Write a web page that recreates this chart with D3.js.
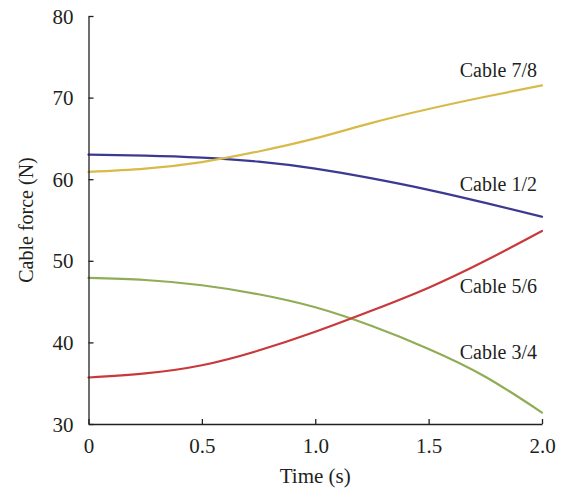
<!DOCTYPE html>
<html>
<head>
<meta charset="utf-8">
<script src="https://cdn.jsdelivr.net/npm/d3@7/dist/d3.min.js"></script>
<style>
  html, body { margin: 0; padding: 0; background: #fff; }
  svg { display: block; }
</style>
</head>
<body>
<svg id="chart" width="562" height="493"></svg>
<script>
// Time samples (s)
const times = [0, 0.25, 0.5, 0.75, 1.0, 1.25, 1.5, 1.75, 2.0];

// Cable forces (N) at each time sample
const cable12 = [63.0, 62.9, 62.65, 62.15, 61.3, 60.1, 58.7, 57.1, 55.4];
const cable34 = [47.9, 47.65, 47.0, 45.9, 44.3, 42.0, 39.2, 35.8, 31.4];
const cable56 = [35.7, 36.2, 37.2, 39.0, 41.3, 43.9, 46.7, 50.0, 53.65];
const cable78 = [60.9, 61.3, 62.1, 63.4, 65.0, 66.9, 68.6, 70.1, 71.5];

const seriesNames = ["Cable 1/2", "Cable 3/4", "Cable 5/6", "Cable 7/8"];
const seriesColors = ["#3b3a92", "#8fad55", "#c9393b", "#d8ba48"];
const seriesValues = [cable12, cable34, cable56, cable78];
// label baseline positions, given in data units (N)
const labelValues = [58.5, 38.0, 46.0, 72.5];

const xTicks = [0, 0.5, 1.0, 1.5, 2.0];
const xTickLabels = ["0", "0.5", "1.0", "1.5", "2.0"];
const yTicks = [30, 40, 50, 60, 70, 80];

const FONT = "'Liberation Serif', Tinos, 'Nimbus Roman', 'Times New Roman', Times, 'DejaVu Serif', serif";

const svg = d3.select("#chart").attr("font-family", FONT);
const margin = { left: 88.5, right: 20, top: 16, bottom: 69 };
const W = 562, H = 493;

const x = d3.scaleLinear().domain([0, 2]).range([margin.left, W - margin.right]);
const y = d3.scaleLinear().domain([30, 80]).range([H - margin.bottom, margin.top]);

// curves
const line = d3.line()
  .x((d, i) => x(times[i]))
  .y(d => y(d))
  .curve(d3.curveNatural);

seriesValues.forEach((vals, k) => {
  svg.append("path")
    .attr("d", line(vals))
    .attr("fill", "none")
    .attr("stroke", seriesColors[k])
    .attr("stroke-width", 2.2)
    .attr("stroke-linecap", "round");
});

// axes
const xAxis = d3.axisBottom(x)
  .tickValues(xTicks)
  .tickFormat((d, i) => xTickLabels[i])
  .tickSizeInner(-5).tickSizeOuter(0).tickPadding(14);
const yAxis = d3.axisLeft(y)
  .tickValues(yTicks)
  .tickFormat(d3.format("d"))
  .tickSizeInner(-5).tickSizeOuter(0).tickPadding(15);

const gx = svg.append("g").attr("transform", `translate(0,${y(30)})`).call(xAxis);
const gy = svg.append("g").attr("transform", `translate(${x(0)},0)`).call(yAxis);

[gx, gy].forEach(g => {
  g.attr("font-family", FONT).attr("font-size", 21);
  g.select(".domain").attr("stroke", "#231f20").attr("stroke-width", 1.3);
  g.selectAll(".tick line").attr("stroke", "#231f20").attr("stroke-width", 1.3);
  g.selectAll(".tick text").attr("fill", "#231f20");
});
gy.selectAll(".tick text").attr("dy", "0.34em");

// series labels
seriesNames.forEach((name, k) => {
  svg.append("text")
    .attr("x", 537)
    .attr("y", y(labelValues[k]))
    .attr("text-anchor", "end")
    .attr("font-size", 20)
    .attr("fill", "#231f20")
    .text(name);
});

// axis titles
svg.append("text")
  .attr("x", (x(0) + x(2)) / 2)
  .attr("y", 483)
  .attr("text-anchor", "middle")
  .attr("font-size", 21)
  .attr("fill", "#231f20")
  .text("Time (s)");

svg.append("text")
  .attr("transform", `translate(33,${(y(30) + y(80)) / 2}) rotate(-90)`)
  .attr("text-anchor", "middle")
  .attr("font-size", 20)
  .attr("fill", "#231f20")
  .text("Cable force (N)");
</script>
</body>
</html>
